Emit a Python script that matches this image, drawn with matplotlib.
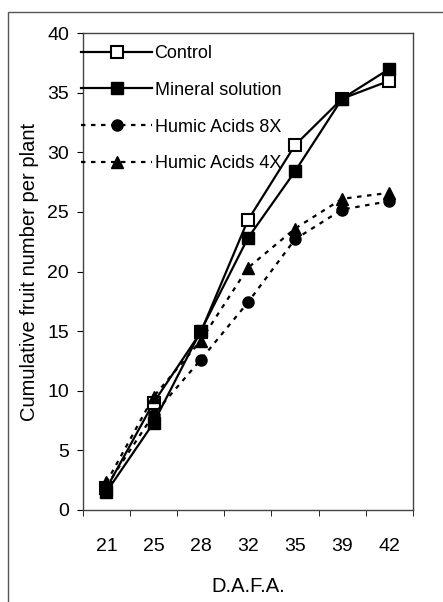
#!/usr/bin/env python
import matplotlib
matplotlib.use("Agg")
import matplotlib.pyplot as plt
from matplotlib.patches import Rectangle

# days after fruit anthesis (categories)
days = ["21", "25", "28", "32", "35", "39", "42"]

# cumulative fruit number per plant
control = [1.8, 9.0, 14.9, 24.3, 30.6, 34.5, 36.0]
mineral = [1.5, 7.3, 15.0, 22.8, 28.4, 34.5, 37.0]
humic_8x = [2.0, 8.0, 12.6, 17.4, 22.7, 25.2, 25.9]
humic_4x = [2.3, 9.5, 14.2, 20.3, 23.6, 26.1, 26.6]

plt.rcParams['font.family'] = ['Liberation Sans', 'DejaVu Sans']

fig = plt.figure(figsize=(4.43, 6.02), dpi=100)
ax = fig.add_axes([0.187, 0.153, 0.745, 0.792])

x = list(range(len(days)))
ms = 8
ax.plot(x, control, color='black', lw=1.6, marker='s', ms=ms,
        mfc='white', mec='black', mew=1.5, label='Control')
ax.plot(x, mineral, color='black', lw=1.6, marker='s', ms=ms,
        mfc='black', mec='black', label='Mineral solution')
ax.plot(x, humic_8x, color='black', lw=1.6, ls=(0, (2, 2.5)), marker='o',
        ms=ms, mfc='black', mec='black', label='Humic Acids 8X')
ax.plot(x, humic_4x, color='black', lw=1.6, ls=(0, (2, 2.5)), marker='^',
        ms=ms + 0.5, mfc='black', mec='black', label='Humic Acids 4X')

ax.set_xlim(-0.5, len(days) - 0.5)
ax.set_ylim(0, 40)
ax.set_yticks(range(0, 41, 5))
ax.set_xticks(x)
ax.set_xticklabels(days)
# excel style: ticks between the categories
ax.set_xticks([i - 0.5 for i in range(len(days) + 1)], minor=True)
ax.tick_params(axis='x', which='major', length=0, pad=20, labelsize=14)
ax.tick_params(axis='x', which='minor', length=4, direction='out')
ax.tick_params(axis='y', length=4, direction='out', pad=6, labelsize=14)

for s in ax.spines.values():
    s.set_color('#444444')
    s.set_linewidth(1)

ax.set_xlabel("D.A.F.A.", fontsize=14.5, labelpad=16)
ax.set_ylabel("Cumulative fruit number per plant", fontsize=14.5, labelpad=6)

leg = ax.legend(loc='upper left', bbox_to_anchor=(-0.04, 1.0), frameon=False,
                fontsize=13, handlelength=3.9, handletextpad=0.15,
                labelspacing=1.1, borderaxespad=0.25)

# outer border of the scanned figure
fig.patches.append(Rectangle((8 / 443, -0.05), 1.1, (602 - 12) / 602 + 0.05,
                             transform=fig.transFigure, fill=False,
                             edgecolor='#555555', lw=1))

plt.savefig("out.png", dpi=100)
